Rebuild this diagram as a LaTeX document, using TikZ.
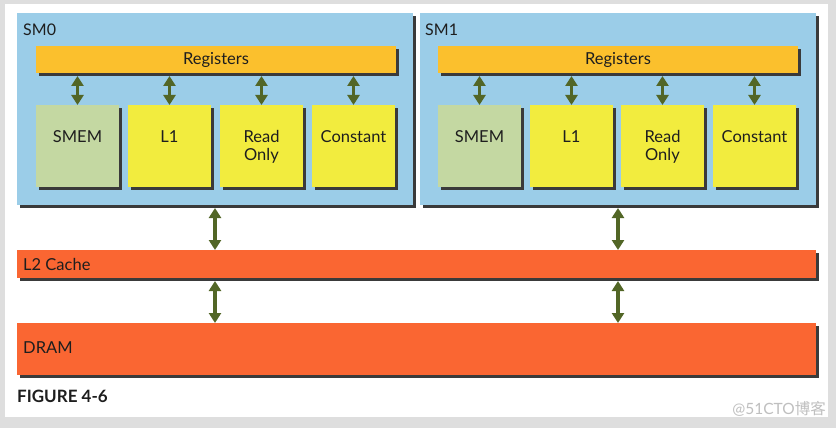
\documentclass[tikz,border=0pt]{standalone}
\usepackage{fontspec}
\setmainfont{Lato}
\newfontfamily\cjkfont{Noto Sans CJK SC}
\usetikzlibrary{arrows.meta,shadows}
\definecolor{bggrey}{RGB}{222,222,222}
\definecolor{smblue}{RGB}{155,205,232}
\definecolor{regorange}{RGB}{251,192,45}
\definecolor{smemgreen}{RGB}{196,216,162}
\definecolor{cacheyellow}{RGB}{242,236,62}
\definecolor{memred}{RGB}{250,102,50}
\definecolor{arrowgreen}{RGB}{82,102,38}
\definecolor{shadowgrey}{RGB}{58,58,58}
\definecolor{txt}{RGB}{30,30,30}
\tikzset{
  shbox/.style={draw=none, inner sep=0pt, outer sep=0pt, anchor=north west, text=txt,
    drop shadow={shadow xshift=3pt, shadow yshift=-3pt, fill=shadowgrey, opacity=1}},
  smbox/.style={shbox, fill=smblue, minimum width=396pt, minimum height=192pt},
  regbox/.style={shbox, fill=regorange, minimum width=360pt, minimum height=27pt, font=\fontsize{16.5}{18}\selectfont},
  membox/.style={shbox, fill=cacheyellow, minimum width=83pt, minimum height=82pt},
  smembox/.style={membox, fill=smemgreen},
  memtext/.style={anchor=north, inner sep=0pt, align=center, text=txt, font=\fontsize{16.5}{18.5}\selectfont},
  bar/.style={shbox, fill=memred, minimum width=799pt},
  lbl/.style={anchor=west, inner sep=0pt, text=txt},
  link/.style={draw=arrowgreen, line width=3.8pt, {Triangle[width=12pt,length=10pt]}-{Triangle[width=12pt,length=10pt]}}
}
\begin{document}
\begin{tikzpicture}[x=1pt,y=-1pt]
\fill[bggrey] (0,0) rectangle (836,428);
\fill[white] (5,4) rectangle (828,417);
\useasboundingbox (0,0) rectangle (836,428);

% SM0
\node[smbox] (sm0) at (17,13) {};
\node[lbl, font=\fontsize{16}{18}\selectfont] (sm0l) at (23,30) {SM0};
\node[regbox] (reg0) at (36,46) {Registers};
\node[smembox] (smem0) at (36,105) {};
\node[membox] (l10) at (128,105) {};
\node[membox] (ro0) at (220,105) {};
\node[membox] (con0) at (312,105) {};
\node[memtext] (smem0t) at ([yshift=-25pt]smem0.north) {SMEM};
\node[memtext] (l10t) at ([yshift=-25pt]l10.north) {L1};
\node[memtext] (ro0t) at ([yshift=-25pt]ro0.north) {Read\\Only};
\node[memtext] (con0t) at ([yshift=-25pt]con0.north) {Constant};
\foreach \b in {smem0,l10,ro0,con0}
  \draw[link] (reg0.south -| \b.north) ++(0,3) -- (\b.north);

% SM1
\node[smbox] (sm1) at (420,13) {};
\node[lbl, font=\fontsize{16}{18}\selectfont] (sm1l) at (425,30) {SM1};
\node[regbox] (reg1) at (438,46) {Registers};
\node[smembox] (smem1) at (438,105) {};
\node[membox] (l11) at (530,105) {};
\node[membox] (ro1) at (621,105) {};
\node[membox] (con1) at (713,105) {};
\node[memtext] (smem1t) at ([yshift=-25pt]smem1.north) {SMEM};
\node[memtext] (l11t) at ([yshift=-25pt]l11.north) {L1};
\node[memtext] (ro1t) at ([yshift=-25pt]ro1.north) {Read\\Only};
\node[memtext] (con1t) at ([yshift=-25pt]con1.north) {Constant};
\foreach \b in {smem1,l11,ro1,con1}
  \draw[link] (reg1.south -| \b.north) ++(0,3) -- (\b.north);

% L2 and DRAM
\node[bar, minimum height=28pt] (l2) at (17,250) {};
\node[lbl, font=\fontsize{16.5}{18}\selectfont] (l2l) at (23,264) {L2 Cache};
\node[bar, minimum height=52pt] (dram) at (17,323) {};
\node[lbl, font=\fontsize{16.5}{18}\selectfont] (draml) at (23,348) {DRAM};

\draw[link] (sm0.south) ++(0,3) -- (sm0.south |- l2.north);
\draw[link] (sm1.south) ++(0,3) -- (sm1.south |- l2.north);
\draw[link] (l2.south -| sm0.south) ++(0,3) -- (sm0.south |- dram.north);
\draw[link] (l2.south -| sm1.south) ++(0,3) -- (sm1.south |- dram.north);

\node[lbl, font=\bfseries\fontsize{17}{19}\selectfont] (fig) at (17,396) {FIGURE 4-6};
\node[anchor=east, inner sep=0pt, text=black!25, font=\fontsize{15.5}{17}\selectfont] (wm) at (826,409) {@51CTO{\cjkfont 博客}};
\end{tikzpicture}
\end{document}
